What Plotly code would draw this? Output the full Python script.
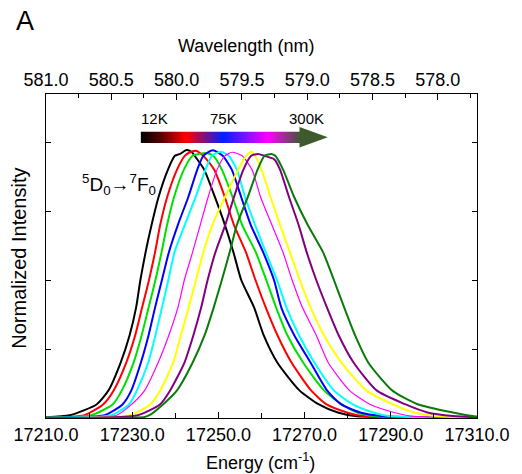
import plotly.graph_objects as go

# ---------------- data ----------------
E_black = [17210.0, 17215.5, 17221.8, 17224.5, 17227.3, 17229.4, 17230.9, 17231.9, 17233.1, 17234.5, 17236.1,
           17238.3, 17239.9, 17241.1, 17242.6, 17243.8, 17244.5, 17246.7, 17249.2, 17251.5, 17253.5, 17255.3,
           17258.3, 17260.5, 17263.7, 17268.8, 17273.2, 17277.7, 17281.8, 17290.2, 17310.0]
I_black = [0.003, 0.01, 0.05, 0.10, 0.20, 0.30, 0.40, 0.50, 0.60, 0.70, 0.80, 0.90, 0.95, 0.957, 0.971, 0.964,
           0.95, 0.90, 0.80, 0.70, 0.60, 0.50, 0.40, 0.30, 0.20, 0.10, 0.05, 0.02, 0.007, 0.003, 0.002]

E_red = [17210.0, 17218.9, 17223.3, 17225.7, 17228.6, 17230.7, 17232.3, 17233.9, 17235.3, 17236.5, 17238.1,
         17240.4, 17242.2, 17243.3, 17244.8, 17246.0, 17246.5, 17249.0, 17251.5, 17253.6, 17256.4, 17258.6,
         17261.0, 17263.7, 17267.0, 17271.5, 17275.0, 17279.8, 17283.4, 17290.2, 17310.0]
I_red = [0.002, 0.01, 0.05, 0.10, 0.20, 0.30, 0.40, 0.50, 0.60, 0.70, 0.80, 0.90, 0.95, 0.962, 0.968, 0.957,
         0.95, 0.90, 0.80, 0.70, 0.60, 0.50, 0.40, 0.30, 0.20, 0.10, 0.05, 0.02, 0.007, 0.003, 0.002]

E_green = [17210.0, 17220.5, 17225.5, 17227.6, 17230.3, 17232.2, 17233.8, 17235.4, 17236.8, 17238.1, 17239.7,
           17242.0, 17244.0, 17245.6, 17247.2, 17248.8, 17250.8, 17253.3, 17255.5, 17258.7, 17261.1, 17263.4,
           17266.0, 17269.7, 17274.5, 17278.6, 17282.2, 17286.1, 17292.4, 17310.0]
I_green = [0.001, 0.01, 0.05, 0.10, 0.20, 0.30, 0.40, 0.50, 0.60, 0.70, 0.80, 0.90, 0.95, 0.957, 0.96, 0.95,
           0.90, 0.80, 0.70, 0.60, 0.50, 0.40, 0.30, 0.20, 0.10, 0.05, 0.02, 0.007, 0.003, 0.002]

E_blue = [17210.0, 17223.6, 17227.8, 17229.8, 17232.0, 17233.8, 17235.3, 17236.9, 17238.5, 17240.6, 17243.0,
          17245.1, 17246.5, 17248.7, 17251.0, 17253.1, 17255.3, 17257.5, 17260.4, 17262.9, 17264.6, 17267.6,
          17271.4, 17275.2, 17278.4, 17282.9, 17287.9, 17294.7, 17310.0]
I_blue = [0.001, 0.01, 0.05, 0.10, 0.20, 0.30, 0.40, 0.50, 0.60, 0.70, 0.80, 0.90, 0.95, 0.97, 0.95, 0.90,
          0.80, 0.70, 0.60, 0.50, 0.40, 0.30, 0.20, 0.10, 0.05, 0.02, 0.007, 0.003, 0.002]

E_cyan = [17210.0, 17225.2, 17229.3, 17231.1, 17233.7, 17235.4, 17236.9, 17238.4, 17239.8, 17242.2, 17244.7,
          17247.0, 17248.5, 17250.6, 17252.4, 17254.3, 17256.2, 17258.5, 17261.0, 17263.6, 17265.8, 17268.7,
          17272.3, 17276.8, 17281.1, 17285.9, 17289.5, 17295.8, 17310.0]
I_cyan = [0.001, 0.01, 0.05, 0.10, 0.20, 0.30, 0.40, 0.50, 0.60, 0.70, 0.80, 0.90, 0.95, 0.965, 0.95, 0.90,
          0.80, 0.70, 0.60, 0.50, 0.40, 0.30, 0.20, 0.10, 0.05, 0.02, 0.007, 0.003, 0.002]

E_magenta = [17210.0, 17226.4, 17229.9, 17232.9, 17236.0, 17238.5, 17240.6, 17242.1, 17244.0, 17245.8, 17247.6,
             17249.7, 17251.5, 17253.2, 17255.5, 17257.8, 17259.8, 17262.4, 17265.0, 17267.1, 17269.5, 17272.7,
             17275.5, 17280.4, 17285.1, 17290.8, 17294.7, 17300.3, 17310.0]
I_magenta = [0.0, 0.01, 0.05, 0.10, 0.20, 0.30, 0.40, 0.50, 0.60, 0.70, 0.80, 0.90, 0.95, 0.963, 0.95, 0.90,
             0.80, 0.70, 0.60, 0.50, 0.40, 0.30, 0.20, 0.10, 0.05, 0.02, 0.007, 0.003, 0.002]

E_yellow = [17210.0, 17229.5, 17234.2, 17236.5, 17239.5, 17241.3, 17243.1, 17244.8, 17246.5, 17248.6, 17251.5,
            17254.6, 17256.4, 17257.7, 17258.5, 17260.0, 17262.1, 17264.3, 17266.6, 17268.9, 17271.4, 17274.5,
            17278.6, 17284.3, 17290.4, 17295.4, 17300.6, 17306.0, 17310.0]
I_yellow = [0.0, 0.01, 0.05, 0.10, 0.20, 0.30, 0.40, 0.50, 0.60, 0.70, 0.80, 0.90, 0.95, 0.965, 0.95, 0.90,
            0.80, 0.70, 0.60, 0.50, 0.40, 0.30, 0.20, 0.10, 0.05, 0.02, 0.007, 0.003, 0.002]

E_purple = [17210.0, 17231.3, 17236.5, 17238.8, 17242.1, 17244.2, 17246.0, 17247.5, 17249.3, 17251.6, 17253.6,
            17255.8, 17257.6, 17259.2, 17260.7, 17263.0, 17264.3, 17266.4, 17268.6, 17270.5, 17272.7, 17275.2,
            17277.9, 17281.4, 17286.7, 17293.3, 17298.5, 17304.4, 17310.0]
I_purple = [0.0, 0.01, 0.05, 0.10, 0.20, 0.30, 0.40, 0.50, 0.60, 0.70, 0.80, 0.90, 0.95, 0.957, 0.95, 0.937,
            0.90, 0.80, 0.70, 0.60, 0.50, 0.40, 0.30, 0.20, 0.10, 0.05, 0.02, 0.007, 0.003]

E_dgreen = [17210.0, 17232.9, 17234.0, 17237.2, 17240.4, 17244.0, 17246.8, 17248.9, 17250.8, 17252.6, 17254.3,
            17256.8, 17259.1, 17260.7, 17262.3, 17263.2, 17265.0, 17267.6, 17270.7, 17274.3, 17276.8, 17279.2,
            17281.7, 17284.8, 17290.3, 17296.2, 17304.4, 17308.9, 17310.0]
I_dgreen = [0.0, 0.004, 0.01, 0.05, 0.10, 0.20, 0.30, 0.40, 0.50, 0.60, 0.70, 0.80, 0.90, 0.95, 0.957, 0.95,
            0.90, 0.80, 0.70, 0.60, 0.50, 0.40, 0.30, 0.20, 0.10, 0.05, 0.02, 0.007, 0.005]

series = [
    (E_black, I_black, "#000000", 2.0),
    (E_red, I_red, "#ff0000", 2.0),
    (E_green, I_green, "#00e000", 2.0),
    (E_blue, I_blue, "#0000ff", 2.0),
    (E_cyan, I_cyan, "#00ffff", 2.0),
    (E_magenta, I_magenta, "#ff00ff", 1.2),
    (E_yellow, I_yellow, "#ffff00", 2.0),
    (E_purple, I_purple, "#800080", 2.0),
    (E_dgreen, I_dgreen, "#0a7a0a", 2.0),
]

temp_labels = ["12K", "75K", "300K"]
energy_range = [17210, 17310]
wavelength_range = [581.0, 577.70]

FONT = "Liberation Sans, Arial, sans-serif"

fig = go.Figure()
for E, I, col, w in series:
    fig.add_trace(go.Scatter(x=E, y=I, mode="lines",
                             line=dict(color=col, width=w, shape="spline", smoothing=0.6),
                             showlegend=False, hoverinfo="skip"))

# dummy trace to attach the top wavelength axis
fig.add_trace(go.Scatter(x=[wavelength_range[0]], y=[None], xaxis="x2", yaxis="y",
                         showlegend=False, hoverinfo="skip"))

# temperature gradient bar
fig.add_trace(go.Heatmap(z=[list(range(100))], xaxis="x3", yaxis="y3", showscale=False,
                         zsmooth="best", hoverinfo="skip",
                         colorscale=[[0.0, "#000000"], [0.12, "#5a0000"], [0.28, "#ff0000"],
                                     [0.51, "#0020ff"], [0.79, "#ff00ff"], [1.0, "#3c5a2e"]]))

W, H = 522, 474
L, R, T, B = 46, 34, 94, 56
pw, ph = W - L - R, H - T - B


def px(x):
    return (x - L) / pw


def py(y):
    return (H - B - y) / ph


axis_common = dict(showline=True, linecolor="black", linewidth=1, showgrid=False, zeroline=False,
                   ticks="inside", tickcolor="black",
                   tickfont=dict(family=FONT, size=18, color="black"))

fig.update_layout(
    width=W, height=H,
    margin=dict(l=L, r=R, t=T, b=B),
    paper_bgcolor="white", plot_bgcolor="white",
    xaxis=dict(range=energy_range, tickmode="linear", tick0=17210, dtick=20, tickformat=".1f",
               ticklen=6, minor=dict(dtick=10, ticks="inside", ticklen=5, tickcolor="black"),
               **axis_common),
    xaxis2=dict(overlaying="x", side="top", anchor="y", range=wavelength_range, tickmode="linear",
                tick0=578.0, dtick=0.5, tickformat=".1f", ticklen=6,
                minor=dict(dtick=0.25, ticks="inside", ticklen=3.5, tickcolor="black"),
                **axis_common),
    yaxis=dict(range=[0, 1.174], tickmode="linear", tick0=0, dtick=0.25, showticklabels=False,
               ticklen=5, mirror="ticks", **axis_common),
    xaxis3=dict(domain=[px(143), px(308)], anchor="y3", visible=False, range=[-0.5, 99.5]),
    yaxis3=dict(domain=[py(143), py(131.5)], anchor="x3", visible=False),
)

# arrow head
x0, x1 = px(306), px(335)
yt, ym, yb = py(127), py(137.2), py(147.5)
fig.add_shape(type="path", xref="paper", yref="paper",
              path=f"M {x0},{yt} L {x1},{ym} L {x0},{yb} Z",
              fillcolor="#3c5a2e", line=dict(width=0))

annos = [
    dict(text="A", x=px(24), y=py(21), size=27),
    dict(text="Wavelength (nm)", x=px(251), y=py(46), size=18),
    dict(text="Energy (cm<sup>-1</sup>)", x=px(266), y=py(461), size=18),
    dict(text="<sup>5</sup>D<sub>0</sub>\u2192<sup>7</sup>F<sub>0</sub>", x=px(121), y=py(184), size=19),
    dict(text=temp_labels[0], x=px(157), y=py(118), size=15),
    dict(text=temp_labels[1], x=px(228), y=py(118), size=15),
    dict(text=temp_labels[2], x=px(313), y=py(118), size=15),
]
for a in annos:
    fig.add_annotation(text=a["text"], x=a["x"], y=a["y"], xref="paper", yref="paper",
                       showarrow=False, xanchor="center", yanchor="middle",
                       font=dict(family=FONT, size=a["size"], color="black"))
fig.add_annotation(text="Normalized Intensity", x=px(18), y=py(258), xref="paper", yref="paper",
                   showarrow=False, textangle=-90, xanchor="center", yanchor="middle",
                   font=dict(family=FONT, size=20, color="black"))

fig.write_html("out.html")
